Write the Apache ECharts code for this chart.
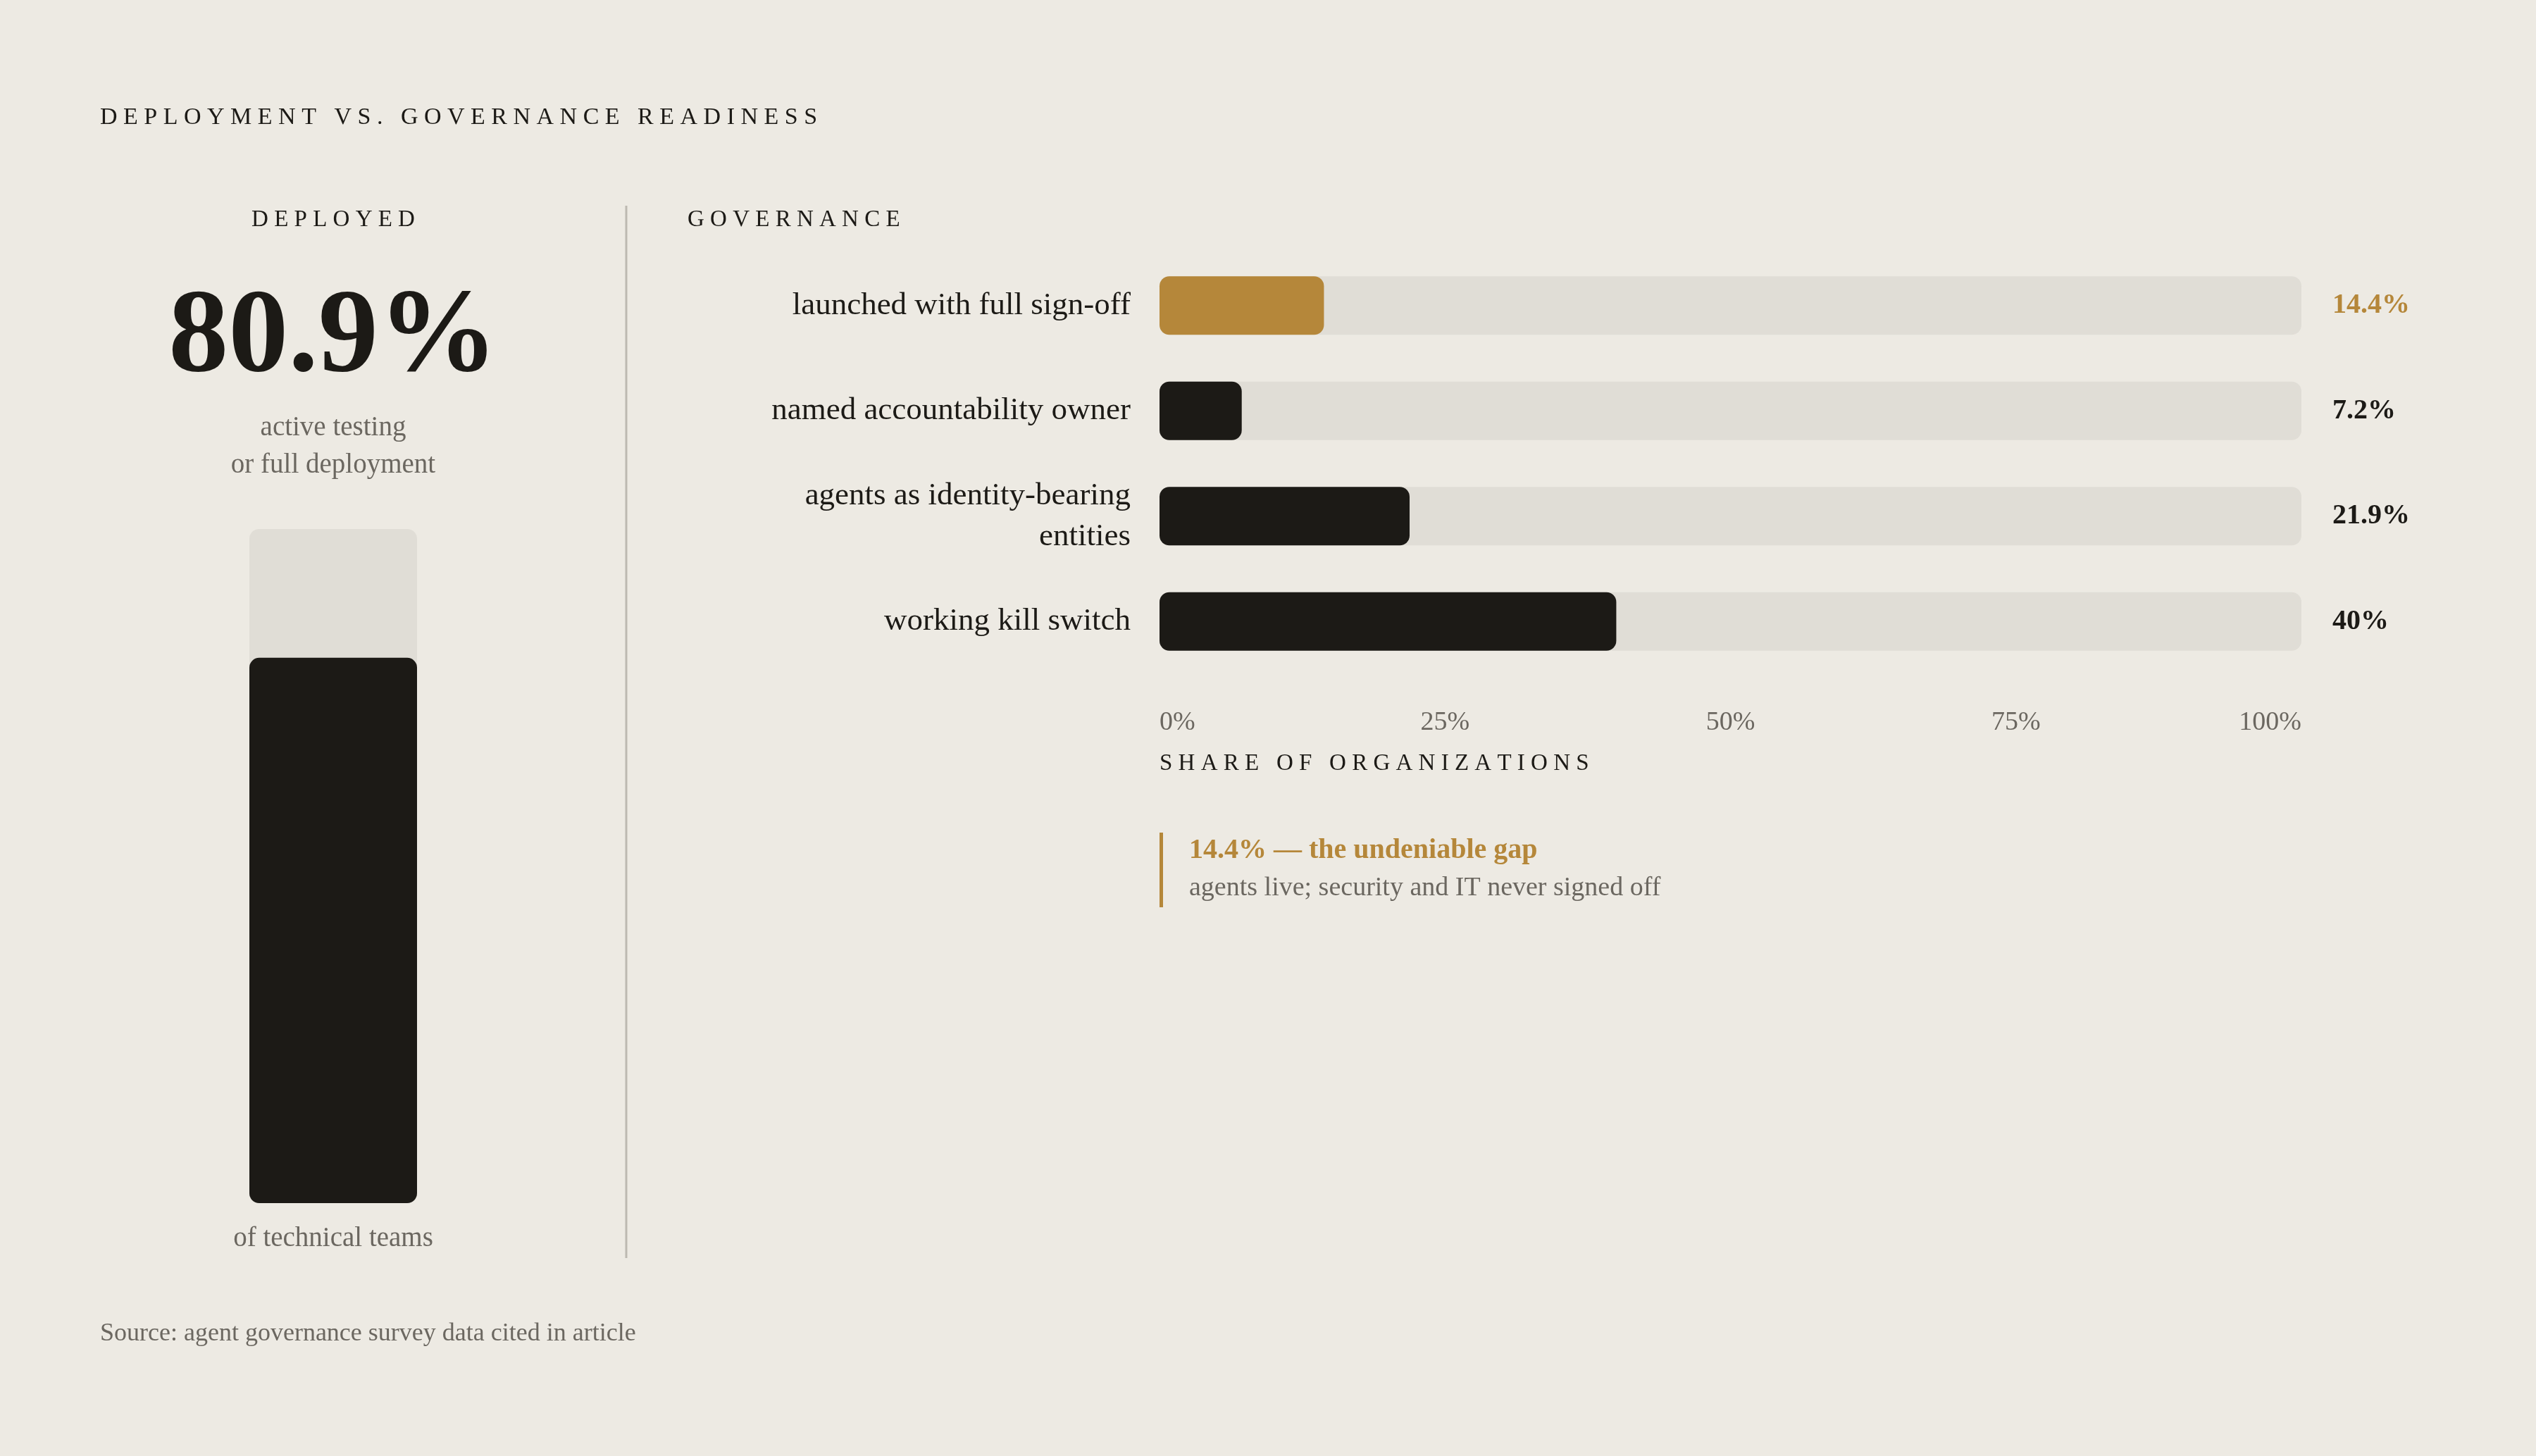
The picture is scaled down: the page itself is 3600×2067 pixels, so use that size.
<!DOCTYPE html>
<html><head><meta charset="utf-8">
<script src="https://cdn.jsdelivr.net/npm/echarts@6/dist/echarts.min.js"></script>
<style>html,body{margin:0;padding:0;background:#edeae3}#c{width:3600px;height:2067px}</style>
</head><body><div id="c"></div>
<script>
const categories = ['launched with full sign-off','named accountability owner','agents as identity-bearing\nentities','working kill switch'];
const values = [14.4, 7.2, 21.9, 40];
const valueLabels = ['14.4%','7.2%','21.9%','40%'];
const deployed = 80.9;
const xTicks = ['0%','25%','50%','75%','100%'];

const F = '"Liberation Serif", "DejaVu Serif", serif';
const DARK = '#1c1a16', GOLD = '#b5873a', TRACK = '#e0ddd6', GRAY = '#6b6760';
const chart = echarts.init(document.getElementById('c'));
chart.setOption({
  backgroundColor: '#edeae3',
  textStyle: {fontFamily: F},
  grid: [
    {left: 1646, width: 1621, top: 359, height: 598},
    {left: 354, width: 238, top: 751, height: 957}
  ],
  xAxis: [
    {gridIndex: 0, type: 'value', min: 0, max: 100, interval: 25,
     axisLine: {show: false}, axisTick: {show: false}, splitLine: {show: false},
     axisLabel: {margin: 50, fontSize: 38, color: GRAY, fontFamily: F,
       alignMinLabel: 'left', alignMaxLabel: 'right',
       formatter: v => xTicks[v / 25]}},
    {gridIndex: 1, type: 'category', data: ['deployed'], show: false}
  ],
  yAxis: [
    {gridIndex: 0, type: 'category', inverse: true, data: categories,
     axisLine: {show: false}, axisTick: {show: false},
     axisLabel: {margin: 41, fontSize: 45, color: DARK, fontFamily: F, lineHeight: 58, align: 'right'}},
    {gridIndex: 1, type: 'value', min: 0, max: 100, show: false}
  ],
  series: [
    {type: 'bar', xAxisIndex: 0, yAxisIndex: 0, data: values.map(() => 100), barWidth: 83,
     barGap: '-100%', itemStyle: {color: TRACK, borderRadius: 14}, silent: true, z: 1,
     label: {show: true, position: 'right', distance: 44, fontSize: 40, fontWeight: 'bold', fontFamily: F,
       formatter: p => valueLabels[p.dataIndex],
       color: DARK,
       rich: {}},
     labelLayout: null},
    {type: 'bar', xAxisIndex: 0, yAxisIndex: 0, barWidth: 83, z: 2,
     data: values.map((v, i) => ({value: v, itemStyle: {color: i === 0 ? GOLD : DARK}})),
     itemStyle: {borderRadius: 14}},
    {type: 'bar', xAxisIndex: 1, yAxisIndex: 1, data: [100], barWidth: 238, barGap: '-100%',
     itemStyle: {color: TRACK, borderRadius: 14}, z: 1},
    {type: 'bar', xAxisIndex: 1, yAxisIndex: 1, data: [deployed], barWidth: 238,
     itemStyle: {color: DARK, borderRadius: 14}, z: 2}
  ],
  graphic: [
    {type: 'text', left: 142, top: 150, style: {text: 'D E P L O Y M E N T   V S .   G O V E R N A N C E   R E A D I N E S S', font: '34px ' + F, fill: DARK}},
    {type: 'text', x: 473, y: 312, style: {text: 'D E P L O Y E D', font: '33px ' + F, fill: DARK, align: 'center', verticalAlign: 'middle'}},
    {type: 'text', x: 473, y: 482, style: {text: deployed + '%', font: 'bold 170px ' + F, fill: DARK, align: 'center', verticalAlign: 'middle'}},
    {type: 'text', x: 473, y: 608, style: {text: 'active testing', font: '39px ' + F, fill: GRAY, align: 'center', verticalAlign: 'middle'}},
    {type: 'text', x: 473, y: 661, style: {text: 'or full deployment', font: '39px ' + F, fill: GRAY, align: 'center', verticalAlign: 'middle'}},
    {type: 'text', x: 473, y: 1759, style: {text: 'of technical teams', font: '39px ' + F, fill: GRAY, align: 'center', verticalAlign: 'middle'}},
    {type: 'line', shape: {x1: 889, y1: 292, x2: 889, y2: 1786}, style: {stroke: '#bdb9b1', lineWidth: 3}},
    {type: 'text', x: 976, y: 312, style: {text: 'G O V E R N A N C E', font: '33px ' + F, fill: DARK, verticalAlign: 'middle'}},
    {type: 'text', x: 1646, y: 1084, style: {text: 'S H A R E   O F   O R G A N I Z A T I O N S', font: '33px ' + F, fill: DARK, verticalAlign: 'middle'}},
    {type: 'rect', shape: {x: 1646, y: 1182, width: 5, height: 106}, style: {fill: GOLD}},
    {type: 'text', x: 1688, y: 1208, style: {text: '14.4% — the undeniable gap', font: 'bold 40px ' + F, fill: GOLD, verticalAlign: 'middle'}},
    {type: 'text', x: 1688, y: 1261, style: {text: 'agents live; security and IT never signed off', font: '38px ' + F, fill: GRAY, verticalAlign: 'middle'}},
    {type: 'text', x: 142, y: 1894, style: {text: 'Source: agent governance survey data cited in article', font: '36px ' + F, fill: GRAY, verticalAlign: 'middle'}}
  ]
});
// colour first value label gold
chart.setOption({series: [{label: {formatter: p => p.dataIndex === 0 ? '{g|' + valueLabels[0] + '}' : valueLabels[p.dataIndex],
  rich: {g: {color: GOLD, fontSize: 40, fontWeight: 'bold', fontFamily: F}}}}]});
</script></body></html>
